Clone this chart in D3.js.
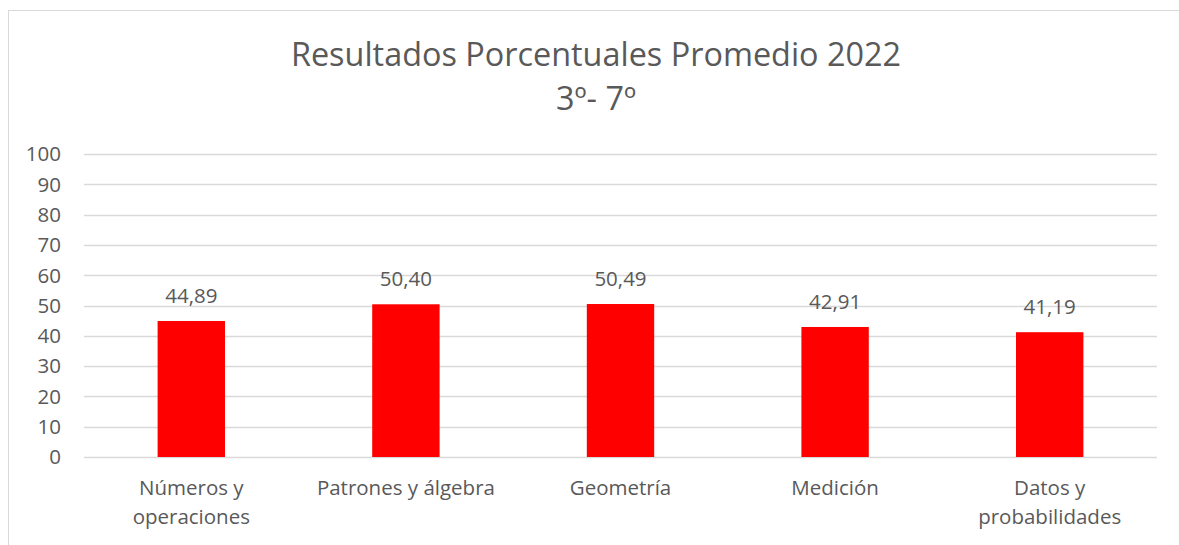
<!DOCTYPE html>
<html>
<head>
<meta charset="utf-8">
<script src="https://cdn.jsdelivr.net/npm/d3@7"></script>
<style>
  body { margin: 0; background: #fff; }
  text { font-family: "Open Sans", "Liberation Sans", sans-serif; fill: #595959; }
</style>
</head>
<body>
<div id="chart"></div>
<script>
var categories = [["Números y", "operaciones"], ["Patrones y álgebra"], ["Geometría"], ["Medición"], ["Datos y", "probabilidades"]];
var values = [44.89, 50.40, 50.49, 42.91, 41.19];
var yTicks = [0, 10, 20, 30, 40, 50, 60, 70, 80, 90, 100];
var titleLines = ["Resultados Porcentuales Promedio 2022", "3º- 7º"];

var W = 1179, H = 545;
var margin = {top: 154, right: 22, bottom: 88, left: 84};

var svg = d3.select("#chart").append("svg")
  .attr("width", W)
  .attr("height", H);

/* chart frame */
svg.append("rect")
  .attr("x", 8.5).attr("y", 10.5)
  .attr("width", W + 10).attr("height", H)
  .attr("fill", "none")
  .attr("stroke", "#d9d9d9");

var x = d3.scaleBand()
  .domain(d3.range(values.length))
  .range([margin.left, W - margin.right])
  .paddingInner(0.686)
  .paddingOuter(0.343);

var y = d3.scaleLinear([0, 100], [H - margin.bottom, margin.top]);

/* gridlines */
svg.append("g")
  .selectAll("line")
  .data(yTicks)
  .enter().append("line")
  .attr("x1", margin.left)
  .attr("x2", W - margin.right)
  .attr("y1", d => Math.round(y(d)) + 0.5)
  .attr("y2", d => Math.round(y(d)) + 0.5)
  .attr("stroke", "#d9d9d9")
  .attr("stroke-width", 1.5);

/* y axis labels */
svg.append("g")
  .selectAll("text")
  .data(yTicks)
  .enter().append("text")
  .attr("x", 61)
  .attr("y", d => y(d))
  .attr("dy", "0.36em")
  .attr("text-anchor", "end")
  .style("font-size", "20.5px")
  .text(d => d);

/* bars */
svg.append("g")
  .selectAll("rect")
  .data(values)
  .enter().append("rect")
  .attr("x", (d, i) => x(i))
  .attr("width", x.bandwidth())
  .attr("y", d => y(d))
  .attr("height", d => y(0) - y(d))
  .attr("fill", "#ff0000");

/* data labels */
svg.append("g")
  .selectAll("text")
  .data(values)
  .enter().append("text")
  .attr("x", (d, i) => x(i) + x.bandwidth() / 2)
  .attr("y", d => y(d) - 18)
  .attr("text-anchor", "middle")
  .style("font-size", "20.5px")
  .text(d => d.toFixed(2).replace(".", ","));

/* category labels */
var cat = svg.append("g")
  .selectAll("text")
  .data(categories)
  .enter().append("text")
  .attr("x", (d, i) => x(i) + x.bandwidth() / 2)
  .attr("y", y(0) + 38)
  .attr("text-anchor", "middle")
  .style("font-size", "20.5px");

cat.selectAll("tspan")
  .data(d => d)
  .enter().append("tspan")
  .attr("x", function() { return d3.select(this.parentNode).attr("x"); })
  .attr("dy", (d, i) => i ? 29 : 0)
  .text(d => d);

/* title */
svg.append("g")
  .selectAll("text")
  .data(titleLines)
  .enter().append("text")
  .attr("x", 596)
  .attr("y", (d, i) => 66 + i * 44)
  .attr("text-anchor", "middle")
  .style("font-size", "32.4px")
  .text(d => d);
</script>
</body>
</html>
